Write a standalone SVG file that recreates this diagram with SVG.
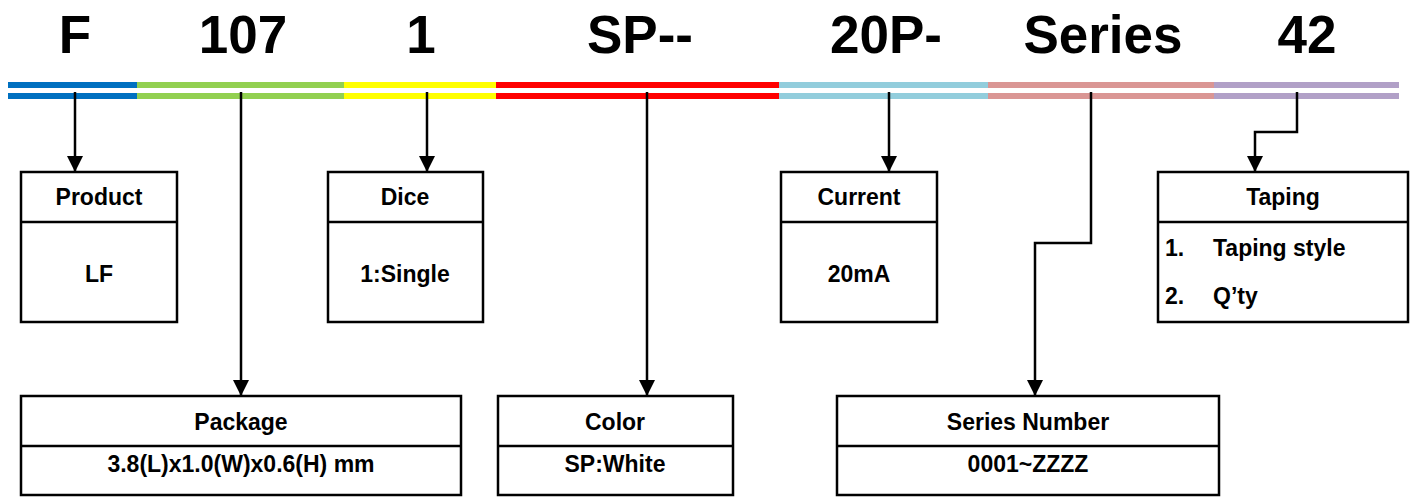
<svg xmlns="http://www.w3.org/2000/svg" width="1413" height="497" viewBox="0 0 1413 497">
<defs>
<style>
.t{font-family:"Liberation Sans",Arial,sans-serif;font-weight:bold;fill:#000}
.big{font-size:53px;text-anchor:middle}
.lab{font-size:23px;text-anchor:middle}
.lst{font-size:23px}
.box{fill:#fff;stroke:#000;stroke-width:2.5}
.sep{stroke:#000;stroke-width:2.5}
.con{fill:none;stroke:#000;stroke-width:2.5;marker-end:url(#ah)}
</style>
<marker id="ah" markerWidth="16" markerHeight="16" refX="15" refY="8" orient="auto" markerUnits="userSpaceOnUse">
<path d="M0,0 L16,8 L0,16 Z" fill="#000"/>
</marker>
</defs>
<rect width="1413" height="497" fill="#fff"/>
<g id="code">
<text class="t big" x="75" y="53">F</text>
<text class="t big" x="243" y="53">107</text>
<text class="t big" x="421" y="53">1</text>
<text class="t big" x="640" y="53">SP--</text>
<text class="t big" x="886" y="53">20P-</text>
<text class="t big" x="1103" y="53">Series</text>
<text class="t big" x="1307" y="53">42</text>
</g>
<g id="bars">
<rect x="8" y="82" width="129" height="6" fill="#0070C0"/><rect x="8" y="93" width="129" height="6" fill="#0070C0"/>
<rect x="137" y="82" width="207" height="6" fill="#92D050"/><rect x="137" y="93" width="207" height="6" fill="#92D050"/>
<rect x="344" y="82" width="152" height="6" fill="#FFFF00"/><rect x="344" y="93" width="152" height="6" fill="#FFFF00"/>
<rect x="496" y="82" width="283" height="6" fill="#FF0000"/><rect x="496" y="93" width="283" height="6" fill="#FF0000"/>
<rect x="779" y="82" width="209" height="6" fill="#92CDDC"/><rect x="779" y="93" width="209" height="6" fill="#92CDDC"/>
<rect x="988" y="82" width="226" height="6" fill="#DA9694"/><rect x="988" y="93" width="226" height="6" fill="#DA9694"/>
<rect x="1214" y="82" width="185" height="6" fill="#B1A0C7"/><rect x="1214" y="93" width="185" height="6" fill="#B1A0C7"/>
</g>
<g id="connectors">
<path class="con" d="M75,92 V171"/>
<path class="con" d="M241,92 V395"/>
<path class="con" d="M427,92 V171"/>
<path class="con" d="M647,92 V395"/>
<path class="con" d="M889,92 V171"/>
<path class="con" d="M1091,92 V243 H1035 V395"/>
<path class="con" d="M1297,92 V132 H1255 V171"/>
</g>
<g id="product">
<rect class="box" x="21" y="172" width="156" height="150"/><line class="sep" x1="21" y1="222" x2="177" y2="222"/>
<text class="t lab" x="99" y="205">Product</text><text class="t lab" x="99" y="282">LF</text>
</g>
<g id="dice">
<rect class="box" x="328" y="172" width="155" height="150"/><line class="sep" x1="328" y1="222" x2="483" y2="222"/>
<text class="t lab" x="405" y="205">Dice</text><text class="t lab" x="405" y="282">1:Single</text>
</g>
<g id="current">
<rect class="box" x="781" y="172" width="156" height="150"/><line class="sep" x1="781" y1="222" x2="937" y2="222"/>
<text class="t lab" x="859" y="205">Current</text><text class="t lab" x="859" y="282">20mA</text>
</g>
<g id="taping">
<rect class="box" x="1158" y="172" width="250" height="150"/><line class="sep" x1="1158" y1="222" x2="1408" y2="222"/>
<text class="t lab" x="1283" y="205">Taping</text>
<text class="t lst" x="1165" y="256">1.</text><text class="t lst" x="1213" y="256">Taping style</text>
<text class="t lst" x="1165" y="304">2.</text><text class="t lst" x="1213" y="304">Q’ty</text>
</g>
<g id="package">
<rect class="box" x="21" y="396" width="440" height="99"/><line class="sep" x1="21" y1="446" x2="461" y2="446"/>
<text class="t lab" x="241" y="430">Package</text><text class="t lab" x="241" y="472">3.8(L)x1.0(W)x0.6(H) mm</text>
</g>
<g id="color">
<rect class="box" x="498" y="396" width="235" height="99"/><line class="sep" x1="498" y1="446" x2="733" y2="446"/>
<text class="t lab" x="615" y="430">Color</text><text class="t lab" x="615" y="472">SP:White</text>
</g>
<g id="series">
<rect class="box" x="837" y="396" width="382" height="99"/><line class="sep" x1="837" y1="446" x2="1219" y2="446"/>
<text class="t lab" x="1028" y="430">Series Number</text><text class="t lab" x="1028" y="472">0001~ZZZZ</text>
</g>
</svg>
